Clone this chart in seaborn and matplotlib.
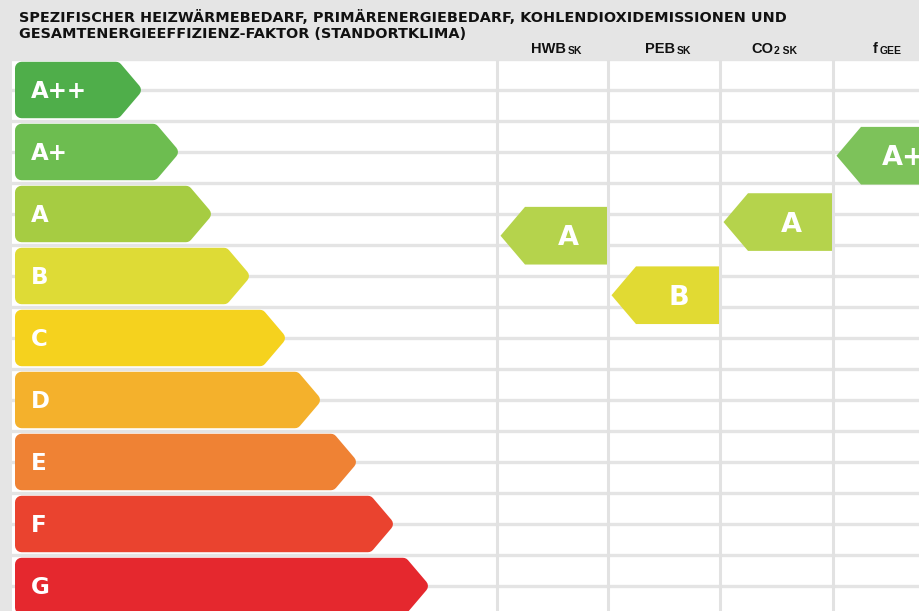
import numpy as np
import pandas as pd
import matplotlib
matplotlib.use("Agg")
import matplotlib.pyplot as plt
import seaborn as sns
from matplotlib.patches import Polygon

# ---------------- data ----------------
classes = ["A++", "A+", "A", "B", "C", "D", "E", "F", "G"]
bar_tip = [128, 165, 198, 236, 272, 307, 343, 380, 415]   # length of each class arrow (scale units)
bar_colors = ["#4fae4a", "#6dbd50", "#a6cc42", "#dedb36", "#f5d21e",
              "#f4b12c", "#ef8234", "#ea432f", "#e5282e"]

indicator_names = ["HWB", "PEB", "CO2", "fGEE"]
indicator_class = ["A", "B", "A", "A+"]
indicator_pos = [2.35, 3.31, 2.13, 1.06]          # position on the class scale (A++ = 0)
indicator_colors = ["#b5d34c", "#e1da33", "#b5d34c", "#7dc25a"]

title_lines = ["SPEZIFISCHER HEIZWÄRMEBEDARF, PRIMÄRENERGIEBEDARF, KOHLENDIOXIDEMISSIONEN UND",
               "GESAMTENERGIEEFFIZIENZ-FAKTOR (STANDORTKLIMA)"]
header_main = ["HWB", "PEB", "CO", "f"]
header_sub = ["SK", "SK", "2 SK", "GEE"]

# ---------------- layout ----------------
W, H = 920, 611
sns.set_theme(style="white")
plt.rcParams["font.family"] = ["Liberation Sans", "DejaVu Sans"]

fig = plt.figure(figsize=(W / 100, H / 100), dpi=100, facecolor="#e5e5e5")
ax_left_px, ax_top_px = 12, 60
ax = fig.add_axes([ax_left_px / W, 0, (W - ax_left_px) / W, (H - ax_top_px) / H])
ax.set_facecolor("white")

x0_px = 15            # pixel position of scale origin
row_px = 62.0         # pixel pitch of a class row
row0_px = 90          # pixel centre of first row
col_edges_px = [497, 608, 720, 833, 945]
col_edges = [c - x0_px for c in col_edges_px]
taper = 24

# grid
ax.hlines(np.arange(-0.5, len(classes) + 0.5, 0.5), -20, 1000, color="#e4e4e4", lw=2.4, zorder=0)
ax.vlines(col_edges, -2, 10, color="#e2e2e2", lw=2.2, zorder=0)

# class arrows (geometry from seaborn bars)
df = pd.DataFrame({"cls": classes, "body": [t - taper for t in bar_tip]})
sns.barplot(data=df, x="body", y="cls", hue="cls", palette=bar_colors, orient="h",
            width=0.91, legend=False, saturation=1, ax=ax, zorder=2)


def inset_polygon(pts, r):
    pts = np.asarray(pts, float)
    n = len(pts)
    area = 0.5 * np.sum(pts[:, 0] * np.roll(pts[:, 1], -1) - np.roll(pts[:, 0], -1) * pts[:, 1])
    sgn = 1 if area > 0 else -1
    out = []
    for i in range(n):
        p0, p1, p2 = pts[i - 1], pts[i], pts[(i + 1) % n]
        e1 = (p1 - p0) / np.linalg.norm(p1 - p0)
        e2 = (p2 - p1) / np.linalg.norm(p2 - p1)
        n1 = sgn * np.array([-e1[1], e1[0]])
        n2 = sgn * np.array([-e2[1], e2[0]])
        out.append(p1 + r * (n1 + n2) / (1 + n1 @ n2))
    return np.array(out)


rad = 6.5
lw_pt = 2 * rad * 72 / 100
bars = list(ax.patches)
for p, tip, col in zip(bars, bar_tip, bar_colors):
    x, y, w, h = p.get_x(), p.get_y(), p.get_width(), p.get_height()
    p.remove()
    # work in pixel space (x already px units, y scaled by row pitch)
    yt, yb = y * row_px, (y + h) * row_px
    yc = (yt + yb) / 2
    pent = [(x, yt), (w, yt), (tip, yc), (w, yb), (x, yb)]
    ins = inset_polygon(pent, rad)
    ins[:, 1] /= row_px
    ax.add_patch(Polygon(ins, closed=True, facecolor=col, edgecolor=col, lw=lw_pt,
                         joinstyle="round", zorder=2))

for i, c in enumerate(classes):
    ax.text(16, i + 0.125, c, color="white", fontsize=16.5, fontweight="bold",
            family="DejaVu Sans", ha="left", va="baseline", zorder=4)

# indicators
ih = 0.93
for j, (name, cl, pos, col) in enumerate(zip(indicator_names, indicator_class,
                                             indicator_pos, indicator_colors)):
    left, right = col_edges[j], col_edges[j + 1]
    xs = [left + 3.5, left + 28, right - 1, right - 1, left + 28]
    ys = [pos, pos - ih / 2, pos - ih / 2, pos + ih / 2, pos + ih / 2]
    ax.fill(xs, ys, facecolor=col, edgecolor="none", zorder=3)
    ax.text(left + 71, pos + 0.155, cl, color="white", fontsize=19.5, fontweight="bold",
            family="DejaVu Sans", ha="center", va="baseline", zorder=4)

ax.set_xlim(ax_left_px - x0_px, W - x0_px)
ax.set_ylim((H - row0_px) / row_px, (ax_top_px - row0_px) / row_px)
ax.set_xlabel("")
ax.set_ylabel("")
ax.set_xticks([])
ax.set_yticks([])
for s in ax.spines.values():
    s.set_visible(False)

# header texts
def fx(px):
    return px / W


def fy(py):
    return 1 - py / H


fig.text(fx(19), fy(22.5), title_lines[0], fontsize=10.4, fontweight="bold",
         family="DejaVu Sans", color="#111111", va="baseline", ha="left")
fig.text(fx(19), fy(37.5), title_lines[1], fontsize=10.4, fontweight="bold",
         family="DejaVu Sans", color="#111111", va="baseline", ha="left")

split_px = [566, 675, 773, 878]
for m, s, sp in zip(header_main, header_sub, split_px):
    fig.text(fx(sp), fy(53), m, fontsize=10.5, fontweight="bold", color="#111111",
             ha="right", va="baseline")
    fig.text(fx(sp + 1.5), fy(53.5), s, fontsize=7.5, fontweight="bold", color="#111111",
             ha="left", va="baseline")

fig.savefig("out.png", dpi=100, facecolor=fig.get_facecolor())
